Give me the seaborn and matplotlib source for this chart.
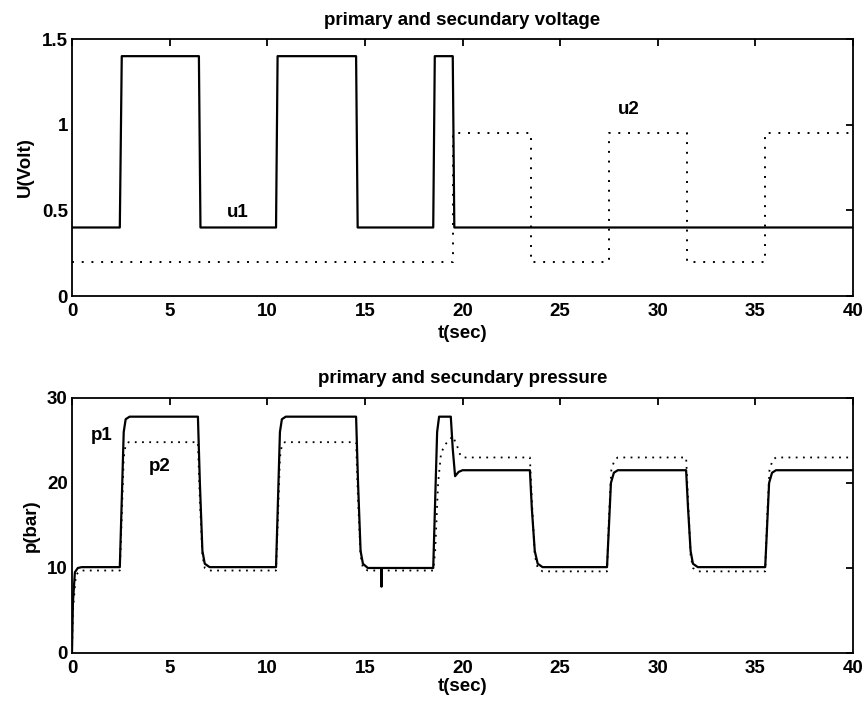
import matplotlib
matplotlib.use("Agg")
import matplotlib.pyplot as plt
import seaborn as sns
import pandas as pd

# ---------------- data ----------------
# primary voltage u1
u1_t = [0, 2.45, 2.55, 6.5, 6.58, 10.45, 10.53, 14.55, 14.63, 18.5, 18.58, 19.5, 19.58, 40]
u1_v = [0.4, 0.4, 1.4, 1.4, 0.4, 0.4, 1.4, 1.4, 0.4, 0.4, 1.4, 1.4, 0.4, 0.4]

# secondary voltage u2
u2_t = [0, 19.5, 19.5, 23.5, 23.5, 27.5, 27.5, 31.5, 31.5, 35.5, 35.5, 40]
u2_v = [0.2, 0.2, 0.95, 0.95, 0.2, 0.2, 0.95, 0.95, 0.2, 0.2, 0.95, 0.95]

# primary pressure p1
p1_t = [0, 0.05, 0.15, 0.3, 0.5,
        2.45, 2.55, 2.65, 2.75, 2.95,
        6.45, 6.55, 6.68, 6.8, 7.05,
        10.45, 10.55, 10.65, 10.75, 10.95,
        14.55, 14.65, 14.78, 14.9, 15.15,
        15.83, 15.85, 15.87,
        18.5, 18.6, 18.7, 18.8,
        19.4, 19.5, 19.62, 19.8, 20.0,
        23.45, 23.55, 23.7, 23.85, 24.1,
        27.4, 27.5, 27.6, 27.75, 27.95,
        31.45, 31.55, 31.68, 31.8, 32.05,
        35.5, 35.6, 35.7, 35.85, 36.05,
        40]
p1_v = [0, 6, 9.5, 10.0, 10.1,
        10.1, 18, 26, 27.5, 27.8,
        27.8, 20, 12, 10.5, 10.1,
        10.1, 18, 26, 27.5, 27.8,
        27.8, 20, 12, 10.5, 10.0,
        10.0, 7.8, 10.0,
        10.0, 18, 26, 27.8,
        27.8, 24, 20.8, 21.3, 21.5,
        21.5, 17, 12, 10.5, 10.1,
        10.1, 15, 20, 21.2, 21.5,
        21.5, 17, 12, 10.5, 10.1,
        10.1, 15, 20, 21.2, 21.5,
        21.5]

# secondary pressure p2
p2_t = [0, 0.05, 0.2, 0.45,
        2.45, 2.55, 2.65, 2.75, 2.9,
        6.45, 6.55, 6.68, 6.8, 7.05,
        10.45, 10.55, 10.65, 10.75, 10.9,
        14.55, 14.65, 14.78, 14.9, 15.15,
        18.5, 18.6, 18.75, 18.9, 19.1, 19.5, 19.7, 19.9, 20.1,
        23.45, 23.55, 23.7, 23.85, 24.1,
        27.4, 27.5, 27.62, 27.78, 27.95,
        31.45, 31.55, 31.68, 31.8, 32.05,
        35.5, 35.6, 35.72, 35.88, 36.05,
        40]
p2_v = [0, 5, 9.2, 9.7,
        9.7, 16, 23, 24.5, 24.8,
        24.8, 18, 11.5, 10.0, 9.7,
        9.7, 16, 23, 24.5, 24.8,
        24.8, 18, 11.5, 10.0, 9.7,
        9.7, 12, 20, 23.5, 24.5, 25.5, 24.5, 23.2, 23.0,
        23.0, 18, 11.5, 10.0, 9.6,
        9.6, 16, 21.5, 22.7, 23.0,
        23.0, 18, 11.5, 10.0, 9.6,
        9.6, 16, 21.5, 22.7, 23.0,
        23.0]

volt_ticks = [0, 0.5, 1, 1.5]
volt_labels = ["0", "0.5", "1", "1.5"]
bar_ticks = [0, 10, 20, 30]
t_ticks = [0, 5, 10, 15, 20, 25, 30, 35, 40]

# ---------------- style ----------------
sns.set_theme(style="white")
plt.rcParams['font.family'] = ['Liberation Sans', 'DejaVu Sans']
plt.rcParams['font.weight'] = 'bold'
plt.rcParams['text.color'] = 'black'
plt.rcParams['axes.labelcolor'] = 'black'
plt.rcParams['xtick.color'] = 'black'
plt.rcParams['ytick.color'] = 'black'
FS = 13.5

fig = plt.figure(figsize=(8.65, 7.07), dpi=100)
ax1 = fig.add_axes([0.0832, 0.5813, 0.903, 0.3635])
ax2 = fig.add_axes([0.0832, 0.0764, 0.903, 0.3607])

df_u1 = pd.DataFrame({"t": u1_t, "v": u1_v})
df_u2 = pd.DataFrame({"t": u2_t, "v": u2_v})
df_p1 = pd.DataFrame({"t": p1_t, "v": p1_v})
df_p2 = pd.DataFrame({"t": p2_t, "v": p2_v})

sns.lineplot(data=df_u1, x="t", y="v", ax=ax1, sort=False, estimator=None,
             color="black", lw=1.6)
sns.lineplot(data=df_u2, x="t", y="v", ax=ax1, sort=False, estimator=None,
             color="black", lw=1.4, linestyle=(0, (1, 4)))
sns.lineplot(data=df_p1, x="t", y="v", ax=ax2, sort=False, estimator=None,
             color="black", lw=1.6)
sns.lineplot(data=df_p2, x="t", y="v", ax=ax2, sort=False, estimator=None,
             color="black", lw=1.3, linestyle=(0, (1, 3)))

for ax in (ax1, ax2):
    ax.set_xlim(0, 40)
    ax.set_xticks(t_ticks)
    ax.set_xticklabels([str(v) for v in t_ticks])
    ax.tick_params(direction="in", length=5, width=1.3, top=True, right=True,
                   labelsize=FS, colors="black", pad=5)
    ax.tick_params(axis="y", pad=3)
    for s in ax.spines.values():
        s.set_color("black")
        s.set_linewidth(1.3)
    ax.set_xlabel("t(sec)", fontsize=FS, fontweight="bold")

ax1.set_ylim(0, 1.5)
ax1.set_yticks(volt_ticks)
ax1.set_yticklabels(volt_labels)
ax1.set_ylabel("U(Volt)", fontsize=FS, fontweight="bold")
ax1.set_title("primary and secundary voltage", fontsize=FS, fontweight="bold", pad=10)
ax1.xaxis.set_label_coords(0.5, -0.113)
ax1.yaxis.set_label_coords(-0.049, 0.5)
ax1.text(8.5, 0.49, "u1", fontsize=FS, fontweight="bold", ha="center", va="center")
ax1.text(28.5, 1.09, "u2", fontsize=FS, fontweight="bold", ha="center", va="center")

ax2.set_ylim(0, 30)
ax2.set_yticks(bar_ticks)
ax2.set_yticklabels([str(v) for v in bar_ticks])
ax2.set_ylabel("p(bar)", fontsize=FS, fontweight="bold")
ax2.set_title("primary and secundary pressure", fontsize=FS, fontweight="bold", pad=11)
ax2.xaxis.set_label_coords(0.5, -0.097)
ax2.yaxis.set_label_coords(-0.041, 0.5)
ax2.text(1.5, 25.6, "p1", fontsize=FS, fontweight="bold", ha="center", va="center")
ax2.text(4.5, 21.9, "p2", fontsize=FS, fontweight="bold", ha="center", va="center")

fig.savefig("out.png", dpi=100)
